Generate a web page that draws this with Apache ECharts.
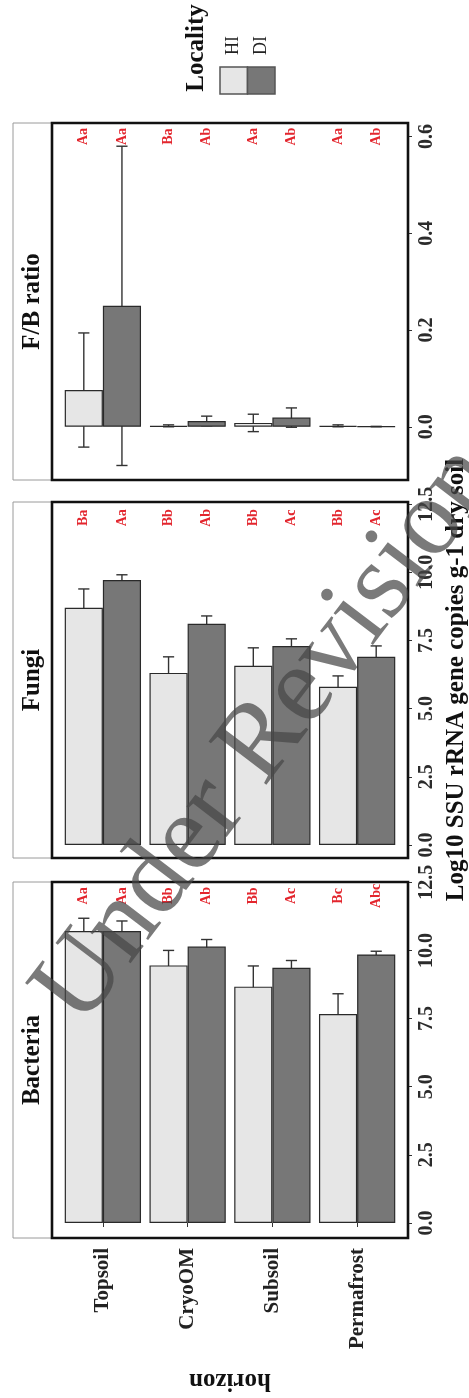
<!DOCTYPE html>
<html>
<head>
<meta charset="utf-8">
<script src="https://cdn.jsdelivr.net/npm/echarts@6/dist/echarts.min.js"></script>
<style>
  html, body { margin: 0; padding: 0; background: #ffffff; }
  #chart { width: 469px; height: 1398px; }
</style>
</head>
<body>
<div id="chart"></div>
<script>
// Soil horizons (categories along each panel)
const horizons = ['Topsoil', 'CryoOM', 'Subsoil', 'Permafrost'];
const localities = ['HI', 'DI'];

// Bacteria: log10 SSU rRNA gene copies, mean and standard deviation
const bacteriaHI   = [10.71, 9.45, 8.67, 7.67];
const bacteriaHIsd = [0.47, 0.55, 0.76, 0.74];
const bacteriaDI   = [10.71, 10.14, 9.36, 9.85];
const bacteriaDIsd = [0.37, 0.26, 0.27, 0.12];
const bacteriaLettersHI = ['Aa', 'Bb', 'Bb', 'Bc'];
const bacteriaLettersDI = ['Aa', 'Ab', 'Ac', 'Abc'];

// Fungi
const fungiHI   = [8.70, 6.31, 6.57, 5.80];
const fungiHIsd = [0.69, 0.59, 0.66, 0.40];
const fungiDI   = [9.72, 8.11, 7.30, 6.90];
const fungiDIsd = [0.19, 0.29, 0.26, 0.40];
const fungiLettersHI = ['Ba', 'Bb', 'Bb', 'Bb'];
const fungiLettersDI = ['Aa', 'Ab', 'Ac', 'Ac'];

// Fungi / bacteria ratio
const ratioHI   = [0.076, 0.002, 0.008, 0.002];
const ratioHIsd = [0.118, 0.002, 0.018, 0.002];
const ratioDI   = [0.250, 0.012, 0.019, 0.0005];
const ratioDIsd = [0.330, 0.010, 0.020, 0.0004];
const ratioLettersHI = ['Aa', 'Ba', 'Aa', 'Aa'];
const ratioLettersDI = ['Aa', 'Ab', 'Ab', 'Ab'];

// Tick values of the value axes
const countTicks = [0, 2.5, 5, 7.5, 10, 12.5];
const ratioTicks = [0, 0.2, 0.4, 0.6];

// Height at which the significance letters sit
const countLetterY = 12;
const ratioLetterY = 0.6;

const SERIF = '"Liberation Serif", "Times New Roman", serif';
const FILL_HI = '#e6e6e6';
const FILL_DI = '#777777';
const BAR_EDGE = '#2a2a2a';
const LETTER_RED = '#e3262e';

// Panel geometry (top to bottom: ratio, fungi, bacteria)
const PANEL_LEFT = 52, PANEL_W = 356, INSET = 8.5;
const panels = [
  { title: 'F/B ratio', top: 123, height: 357, min: -0.11, max: 0.628, ticks: ratioTicks,
    hi: ratioHI, hiSd: ratioHIsd, di: ratioDI, diSd: ratioDIsd,
    lettersHI: ratioLettersHI, lettersDI: ratioLettersDI, letterY: ratioLetterY, showX: false },
  { title: 'Fungi', top: 502, height: 356, min: -0.48, max: 12.58, ticks: countTicks,
    hi: fungiHI, hiSd: fungiHIsd, di: fungiDI, diSd: fungiDIsd,
    lettersHI: fungiLettersHI, lettersDI: fungiLettersDI, letterY: countLetterY, showX: false },
  { title: 'Bacteria', top: 882, height: 356, min: -0.55, max: 12.51, ticks: countTicks,
    hi: bacteriaHI, hiSd: bacteriaHIsd, di: bacteriaDI, diSd: bacteriaDIsd,
    lettersHI: bacteriaLettersHI, lettersDI: bacteriaLettersDI, letterY: countLetterY, showX: true }
];

const grid = [], xAxis = [], yAxis = [], series = [], graphic = [];

function dodge(api, group) {
  const band = api.size([1, 0])[0];
  return { band: band, shift: (group === 0 ? -0.225 : 0.225) * band };
}

panels.forEach(function (p, gi) {
  grid.push({ left: PANEL_LEFT + INSET, width: PANEL_W - 2 * INSET, top: p.top, height: p.height });

  xAxis.push({
    type: 'category', gridIndex: gi, data: horizons,
    axisLine: { show: false },
    axisTick: { show: p.showX, alignWithLabel: true, length: 4, lineStyle: { color: '#333', width: 1 } },
    axisLabel: { show: p.showX, rotate: 90, margin: 10, fontFamily: SERIF, fontWeight: 'bold', fontSize: 21, color: '#222' },
    splitLine: { show: false }
  });

  yAxis.push({
    type: 'value', gridIndex: gi, position: 'right', offset: INSET,
    min: p.min, max: p.max,
    axisLine: { show: false },
    axisTick: { show: true, length: 4, customValues: p.ticks, lineStyle: { color: '#333', width: 1 } },
    axisLabel: {
      show: true, rotate: 90, margin: 9, customValues: p.ticks,
      fontFamily: SERIF, fontWeight: 'bold', fontSize: 20, color: '#2b2b2b',
      formatter: function (v) { return Number(v).toFixed(1); }
    },
    splitLine: { show: false }
  });

  // Error bars drawn underneath the bars
  const errData = [];
  p.hi.forEach(function (v, i) { errData.push([i, v, p.hiSd[i], 0]); });
  p.di.forEach(function (v, i) { errData.push([i, v, p.diSd[i], 1]); });
  series.push({
    type: 'custom', xAxisIndex: gi, yAxisIndex: gi, z: 1, silent: true,
    encode: { x: 0, y: 1 },
    data: errData,
    renderItem: function (params, api) {
      const c = api.value(0), m = api.value(1), s = api.value(2), g = api.value(3);
      const d = dodge(api, g);
      const hi = api.coord([c, m + s]);
      const lo = api.coord([c, m - s]);
      const x = hi[0] + d.shift;
      const half = 0.066 * d.band;
      const st = { stroke: '#333', lineWidth: 1.4 };
      return {
        type: 'group',
        children: [
          { type: 'line', shape: { x1: x, y1: lo[1], x2: x, y2: hi[1] }, style: st },
          { type: 'line', shape: { x1: x - half, y1: hi[1], x2: x + half, y2: hi[1] }, style: st },
          { type: 'line', shape: { x1: x - half, y1: lo[1], x2: x + half, y2: lo[1] }, style: st }
        ]
      };
    }
  });

  series.push({
    name: 'HI', type: 'bar', xAxisIndex: gi, yAxisIndex: gi, z: 2,
    data: p.hi, barWidth: '45%', barGap: '0%',
    itemStyle: { color: FILL_HI, borderColor: BAR_EDGE, borderWidth: 1.2 },
    emphasis: { disabled: true }
  });
  series.push({
    name: 'DI', type: 'bar', xAxisIndex: gi, yAxisIndex: gi, z: 2,
    data: p.di, barWidth: '45%', barGap: '0%',
    itemStyle: { color: FILL_DI, borderColor: BAR_EDGE, borderWidth: 1.2 },
    emphasis: { disabled: true }
  });

  // Significance letters above each bar
  const letters = p.lettersHI.concat(p.lettersDI);
  const letterData = [];
  p.lettersHI.forEach(function (t, i) { letterData.push([i, p.letterY, 0]); });
  p.lettersDI.forEach(function (t, i) { letterData.push([i, p.letterY, 1]); });
  series.push({
    type: 'custom', xAxisIndex: gi, yAxisIndex: gi, z: 3, silent: true,
    encode: { x: 0, y: 1 },
    data: letterData,
    renderItem: function (params, api) {
      const d = dodge(api, api.value(2));
      const pt = api.coord([api.value(0), api.value(1)]);
      return {
        type: 'text', x: pt[0] + d.shift, y: pt[1], rotation: Math.PI / 2,
        style: {
          text: letters[params.dataIndex], fill: LETTER_RED,
          font: 'bold 14px ' + SERIF, align: 'center', verticalAlign: 'middle'
        }
      };
    }
  });

  // Panel border, strip and strip title
  graphic.push({
    type: 'rect', z: 20, silent: true,
    shape: { x: PANEL_LEFT, y: p.top, width: PANEL_W, height: p.height },
    style: { fill: null, stroke: '#111', lineWidth: 2.6 }
  });
  graphic.push({
    type: 'rect', z: 19, silent: true,
    shape: { x: 13, y: p.top, width: PANEL_LEFT - 13, height: p.height },
    style: { fill: '#ffffff', stroke: '#9a9a9a', lineWidth: 1 }
  });
  graphic.push({
    type: 'text', z: 21, silent: true,
    x: 32.5, y: p.top + p.height / 2, rotation: Math.PI / 2,
    style: { text: p.title, font: 'bold 25px ' + SERIF, fill: '#111',
             align: 'center', verticalAlign: 'middle', textAlign: 'center', textVerticalAlign: 'middle' }
  });
});

// Axis titles
graphic.push({
  type: 'text', z: 21, silent: true, x: 457, y: 680, rotation: Math.PI / 2,
  style: { text: 'Log10 SSU rRNA gene copies g-1 dry soil', font: 'bold 25px ' + SERIF, fill: '#111',
           align: 'center', verticalAlign: 'middle', textAlign: 'center', textVerticalAlign: 'middle' }
});
graphic.push({
  type: 'text', z: 21, silent: true, x: 230, y: 1380, rotation: Math.PI,
  style: { text: 'horizon', font: 'bold 25px ' + SERIF, fill: '#111',
           align: 'center', verticalAlign: 'middle', textAlign: 'center', textVerticalAlign: 'middle' }
});

// Legend
graphic.push({
  type: 'text', z: 21, silent: true, x: 197, y: 48, rotation: Math.PI / 2,
  style: { text: 'Locality', font: 'bold 25px ' + SERIF, fill: '#111',
           align: 'center', verticalAlign: 'middle', textAlign: 'center', textVerticalAlign: 'middle' }
});
[FILL_HI, FILL_DI].forEach(function (fill, k) {
  const x0 = 220 + k * 27.5;
  graphic.push({
    type: 'rect', z: 21, silent: true,
    shape: { x: x0, y: 67, width: 27.5, height: 27 },
    style: { fill: fill, stroke: '#555', lineWidth: 1.5 }
  });
  graphic.push({
    type: 'text', z: 21, silent: true, x: x0 + 13.75, y: 55, rotation: Math.PI / 2,
    style: { text: localities[k], font: '18px ' + SERIF, fill: '#222',
             align: 'left', verticalAlign: 'middle', textAlign: 'left', textVerticalAlign: 'middle' }
  });
});

// Watermark across the figure
graphic.push({
  type: 'text', z: 30, silent: true, x: 268, y: 735, rotation: 0.92,
  style: { text: 'Under Revision', font: '110px ' + SERIF, fill: 'rgba(70,70,70,0.72)',
           align: 'center', verticalAlign: 'middle', textAlign: 'center', textVerticalAlign: 'middle' }
});

const chart = echarts.init(document.getElementById('chart'), null, { renderer: 'canvas' });
chart.setOption({
  animation: false,
  backgroundColor: '#ffffff',
  grid: grid,
  xAxis: xAxis,
  yAxis: yAxis,
  series: series,
  graphic: graphic
});
</script>
</body>
</html>
